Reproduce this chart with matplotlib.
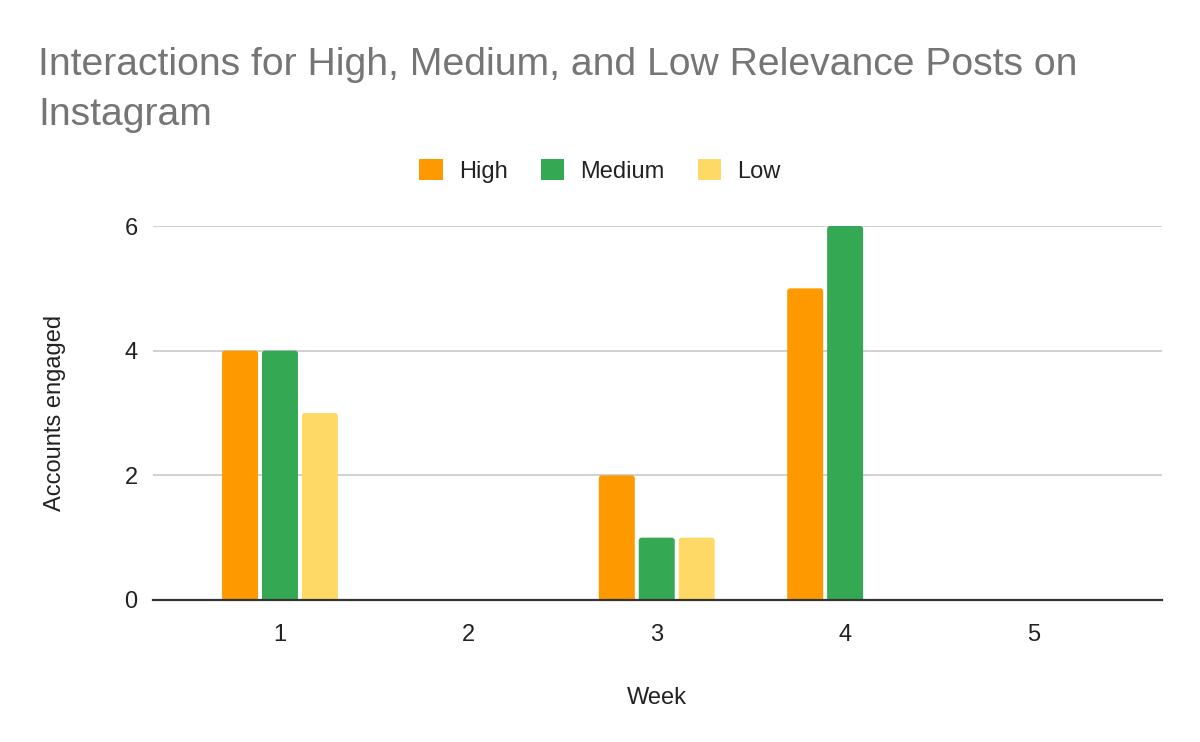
import numpy as np
import matplotlib
matplotlib.use('Agg')
import matplotlib.pyplot as plt
from matplotlib.patches import FancyBboxPatch

weeks = ['1', '2', '3', '4', '5']
high = [4, 0, 2, 5, 0]
medium = [4, 0, 1, 6, 0]
low = [3, 0, 1, 0, 0]

plt.rcParams['font.family'] = ['Liberation Sans', 'DejaVu Sans']

fig = plt.figure(figsize=(12, 7.42), dpi=100)
ax = fig.add_axes([0.1275, 0.1914, 0.8405, 0.504])

x = np.arange(1, len(weeks) + 1)
w = 0.191
step = 0.212
bars = []
bars.append(ax.bar(x - step, high, w, color='#FF9900', label='High', zorder=3))
bars.append(ax.bar(x, medium, w, color='#34A853', label='Medium', zorder=3))
bars.append(ax.bar(x + step, low, w, color='#FFD966', label='Low', zorder=3))

ax.set_xlim(0.326, 5.68)
ax.set_ylim(0, 6)

# round the bar tops a little (radius ~3px)
p0 = ax.transData.transform((0, 0))
p1 = ax.transData.transform((1, 1))
aspect = (p1[0] - p0[0]) / (p1[1] - p0[1])
r = 3.0 / (p1[0] - p0[0])
for bc in bars:
    for b in bc.patches:
        b.set_visible(False)
        if b.get_height() <= 0:
            continue
        ext = 0.2
        fb = FancyBboxPatch((b.get_x(), b.get_y() - ext), b.get_width(), b.get_height() + ext,
                            boxstyle='round,pad=0,rounding_size=%f' % r, mutation_aspect=aspect,
                            facecolor=b.get_facecolor(), edgecolor='none', zorder=3)
        ax.add_patch(fb)

ax.set_yticks([0, 2, 4, 6])
ax.set_xticks(x)
ax.set_xticklabels(weeks)
ax.grid(axis='y', color='#c8c8c8', linewidth=1.2, zorder=0)
for s in ['top', 'right', 'left']:
    ax.spines[s].set_visible(False)
ax.spines['bottom'].set_color('#333333')
ax.spines['bottom'].set_linewidth(1.6)
ax.spines['bottom'].set_zorder(4)
ax.tick_params(axis='both', length=0, labelsize=17, labelcolor='#222222')
ax.tick_params(axis='y', pad=11)
ax.tick_params(axis='x', pad=17)

ax.set_xlabel('Week', fontsize=17, color='#222222', labelpad=30)
ax.set_ylabel('Accounts engaged', fontsize=17, color='#222222', labelpad=42)

fig.text(0.032, 0.937, 'Interactions for High, Medium, and Low Relevance Posts on\nInstagram',
         fontsize=28.2, color='#757575', va='top', ha='left', linespacing=1.52)

handles, labels = ax.get_legend_handles_labels()
leg = fig.legend(handles, labels, loc='center', bbox_to_anchor=(0.5, 0.7695), ncol=3, frameon=False,
                 fontsize=17, handlelength=1.0, handleheight=1.0, handletextpad=0.68,
                 columnspacing=1.4, labelcolor='#222222')
for h in leg.legend_handles:
    h.set_visible(True)

plt.savefig('out.png', dpi=100)
